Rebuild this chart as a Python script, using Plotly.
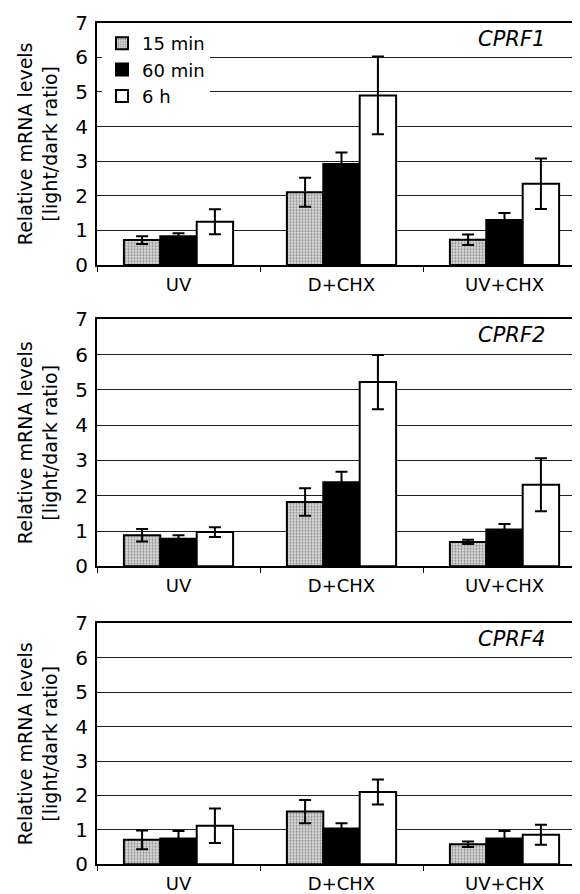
import plotly.graph_objects as go

categories = ["UV", "D+CHX", "UV+CHX"]
series_names = ["15 min", "60 min", "6 h"]
panel_labels = ["CPRF1", "CPRF2", "CPRF4"]

# CPRF1
cprf1_15 = [0.72, 2.10, 0.73]
cprf1_60 = [0.83, 2.92, 1.30]
cprf1_6h = [1.25, 4.90, 2.35]
cprf1_15_err = [0.11, 0.42, 0.15]
cprf1_60_err = [0.09, 0.33, 0.20]
cprf1_6h_err = [0.36, 1.12, 0.73]

# CPRF2
cprf2_15 = [0.88, 1.82, 0.69]
cprf2_60 = [0.78, 2.38, 1.04]
cprf2_6h = [0.97, 5.22, 2.31]
cprf2_15_err = [0.18, 0.39, 0.06]
cprf2_60_err = [0.10, 0.30, 0.16]
cprf2_6h_err = [0.14, 0.77, 0.75]

# CPRF4
cprf4_15 = [0.71, 1.53, 0.58]
cprf4_60 = [0.75, 1.04, 0.75]
cprf4_6h = [1.12, 2.10, 0.86]
cprf4_15_err = [0.27, 0.34, 0.08]
cprf4_60_err = [0.22, 0.15, 0.22]
cprf4_6h_err = [0.50, 0.36, 0.29]

panels = [
    (cprf1_15, cprf1_60, cprf1_6h, cprf1_15_err, cprf1_60_err, cprf1_6h_err),
    (cprf2_15, cprf2_60, cprf2_6h, cprf2_15_err, cprf2_60_err, cprf2_6h_err),
    (cprf4_15, cprf4_60, cprf4_6h, cprf4_15_err, cprf4_60_err, cprf4_6h_err),
]

# page body has an 8px margin; figure sized to fit the 580x894 window
OFF = 8
W, H = 580 - OFF, 894 - OFF
FONT = "DejaVu Sans, Arial, sans-serif"

styles = [
    dict(color="#cfcfcf", pattern=dict(shape=".", fgcolor="#333333", bgcolor="#d8d8d8", size=3, solidity=0.35)),
    dict(color="black"),
    dict(color="white"),
]

# pixel geometry in window coords (top of plot, zero line)
panel_px = [(22.7, 265.0), (319.3, 566.3), (623.3, 864.3)]
left_px = 97.0 - OFF
cat_w = 163.0
x_hi = -0.5 + (W - left_px) / cat_w

fig = go.Figure()
for p, data in enumerate(panels):
    vals = data[:3]
    errs = data[3:]
    xa = "x" if p == 0 else f"x{p+1}"
    ya = "y" if p == 0 else f"y{p+1}"
    for s in range(3):
        fig.add_trace(go.Bar(
            x=categories, y=vals[s], name=series_names[s],
            xaxis=xa, yaxis=ya,
            marker=dict(line=dict(color="black", width=2), **styles[s]),
            error_y=dict(type="data", array=errs[s], visible=True,
                         color="black", thickness=2, width=6),
            showlegend=(p == 0), legendgroup=series_names[s],
        ))

layout = dict(
    width=W, height=H,
    margin=dict(l=0, r=0, t=0, b=0, autoexpand=False),
    paper_bgcolor="white", plot_bgcolor="white",
    barmode="group", bargap=0.33, bargroupgap=0,
    font=dict(family=FONT, color="black"),
    showlegend=True,
    legend=dict(x=(102 - OFF) / W, y=1 - (25 - OFF) / H, xanchor="left", yanchor="top",
                bgcolor="white", borderwidth=0, font=dict(size=18),
                tracegroupgap=0, itemwidth=30),
)

annotations = []
for p in range(3):
    top, zero = panel_px[p]
    top -= OFF
    zero -= OFF
    ydom = [1 - zero / H, 1 - top / H]
    xkey = "xaxis" if p == 0 else f"xaxis{p+1}"
    ykey = "yaxis" if p == 0 else f"yaxis{p+1}"
    ya = "y" if p == 0 else f"y{p+1}"
    xa = "x" if p == 0 else f"x{p+1}"
    layout[xkey] = dict(
        domain=[left_px / W, 1.0], anchor=ya, range=[-0.5, x_hi], automargin=False,
        type="category", showline=True, linecolor="black", linewidth=2, mirror=True,
        ticks="outside", tickson="boundaries", ticklen=5, tickwidth=1, tickcolor="black",
        tickfont=dict(size=18), ticklabelstandoff=2, showgrid=False,
    )
    layout[ykey] = dict(
        domain=ydom, anchor=xa, range=[0, 7], dtick=1, automargin=False,
        showline=True, linecolor="black", linewidth=2,
        showgrid=True, gridcolor="#222222", gridwidth=1, zeroline=False,
        ticks="", tickfont=dict(size=20), ticklabelstandoff=3,
        title=dict(text="Relative mRNA levels<br>[light/dark ratio]", font=dict(size=19), standoff=13),
    )
    label_y = 7 - 16 / ((zero - top) / 7)
    label_x = -0.5 + (547 - OFF - left_px) / cat_w
    annotations.append(dict(
        x=label_x, y=label_y, xref=xa, yref=ya, text=f"<i>{panel_labels[p]}</i>",
        showarrow=False, xanchor="right", yanchor="middle",
        font=dict(size=21, family=FONT),
    ))
layout["annotations"] = annotations
fig.update_layout(**layout)
fig.write_html("out.html")
